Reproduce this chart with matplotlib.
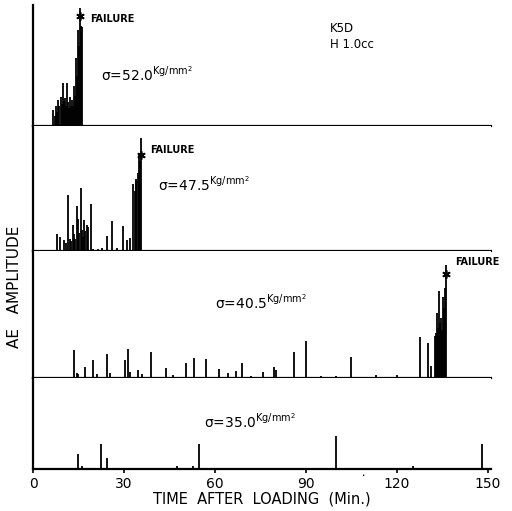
import numpy as np
import matplotlib
matplotlib.use('Agg')
import matplotlib.pyplot as plt

# AE amplitudes (arbitrary units), time in minutes
t1 = [6.7, 7.1, 7.6, 7.9, 8.3, 8.7, 9.1, 9.6, 10.0, 10.2, 10.6, 10.9, 11.3, 11.7,
      11.9, 12.2, 12.5, 12.8, 13.2, 13.6, 13.8, 14.2, 14.5, 14.9, 15.2, 15.8, 16.1]
a1 = [16, 10, 20, 14, 26, 20, 29, 22, 43, 25, 28, 20, 43, 24,
      18, 29, 20, 26, 20, 40, 30, 68, 50, 96, 80, 100, 99]

t2 = [7.8, 8.9, 10.2, 11.0, 11.6, 12.2, 12.6, 13.1, 13.6, 14.0, 14.4, 14.9, 15.3, 15.7,
      16.1, 16.4, 16.8, 17.2, 17.7, 18.2, 19.1, 19.9, 21.5, 22.7, 24.5, 25.9, 27.6,
      29.6, 30.9, 32.0, 33.1, 33.5, 33.9, 34.1, 34.5, 34.8, 35.0, 35.3]
a2 = [17, 14, 11, 8, 56, 12, 10, 26, 17, 12, 45, 32, 18, 63,
      21, 14, 31, 20, 26, 24, 47, 2, 2, 3, 15, 30, 3,
      25, 11, 13, 67, 60, 72, 70, 78, 75, 97, 90]

t3 = [13.5, 14.5, 15.0, 17.1, 19.8, 21.0, 24.4, 25.5, 30.3, 31.3, 32.0, 34.6, 36.0,
      38.9, 43.9, 46.0, 50.5, 53.1, 57.0, 61.3, 64.3, 66.9, 68.9, 72.0, 75.8, 79.5,
      80.0, 86.1, 90.0, 95.0, 100.0, 104.8, 113.1, 120.0, 127.6, 130.3, 131.1, 132.5,
      132.8, 133.3, 133.6, 134.0, 134.3, 134.6, 134.8, 135.0, 135.3, 135.6, 135.9]
a3 = [28, 5, 4, 11, 18, 4, 24, 5, 18, 29, 6, 8, 4,
      26, 10, 3, 15, 20, 19, 9, 5, 7, 15, 2, 6, 11,
      8, 26, 37, 2, 2, 21, 3, 3, 41, 35, 12, 42,
      45, 65, 50, 87, 55, 60, 48, 47, 81, 70, 90]

t4 = [14.7, 16.1, 22.3, 24.5, 47.4, 52.8, 54.7, 99.9, 125.3, 147.9]
a4 = [15, 3, 25, 11, 3, 3, 25, 33, 3, 25]

# failure events: time, line top, marker height
fail_t = [15.5, 35.6, 136.2]
fail_top = [118, 113, 113]
fail_mk = [110, 96, 104]

stress = ['52.0', '47.5', '40.5', '35.0']
times = [t1, t2, t3, t4]
amps = [a1, a2, a3, a4]

heights = [121, 125, 127, 91]
label_pos = [(22.4, 51), (41.2, 66), (60.0, 75), (56.4, 47)]
fail_txt = [(18.8, 107), (38.6, 101), (139.1, 116)]

fig = plt.figure(figsize=(5.12, 5.11), dpi=100)
gs = fig.add_gridspec(4, 1, height_ratios=heights, hspace=0,
                      left=33/512, right=491/512, top=1-5/511, bottom=1-469/511)

for i in range(4):
    ax = fig.add_subplot(gs[i])
    ax.vlines(times[i], 0, amps[i], color='black', lw=1.3)
    ax.set_xlim(0, 151)
    ax.set_ylim(0, heights[i])
    ax.spines['top'].set_visible(False)
    ax.spines['right'].set_visible(False)
    ax.spines['left'].set_linewidth(1.6)
    ax.spines['bottom'].set_linewidth(1.6)
    ax.set_yticks([])
    x, y = label_pos[i]
    ax.text(x, y, 'σ=' + stress[i] + r'$^{\rm Kg/mm^2}$', fontsize=10, va='center')
    if i < 3:
        ax.vlines(fail_t[i], 0, fail_top[i], color='black', lw=1.3)
        ax.plot(fail_t[i], fail_mk[i], marker=(6, 2, 0), color='black', ms=6, mew=1.2)
        fx, fy = fail_txt[i]
        ax.text(fx, fy, 'FAILURE', fontsize=7, fontweight='bold', va='center')
        ax.set_xticks([])
    else:
        ax.set_xticks(np.arange(0, 151, 30))
        ax.tick_params(axis='x', length=3, width=1.2, pad=3, labelsize=10)
        ax.set_xlabel('TIME  AFTER  LOADING  (Min.)', fontsize=10.5, labelpad=0)
    if i == 0:
        ax.text(98, 98, 'K5D', fontsize=8.5, va='center')
        ax.text(98, 81, 'H 1.0cc', fontsize=8.5, va='center')

fig.text(15/512, 1-287/511, 'AE   AMPLITUDE', rotation=90, fontsize=11,
         ha='center', va='center')
fig.text(363/512, 1-476/511, '•', fontsize=4, ha='center', va='center')

plt.savefig('out.png', dpi=100)
